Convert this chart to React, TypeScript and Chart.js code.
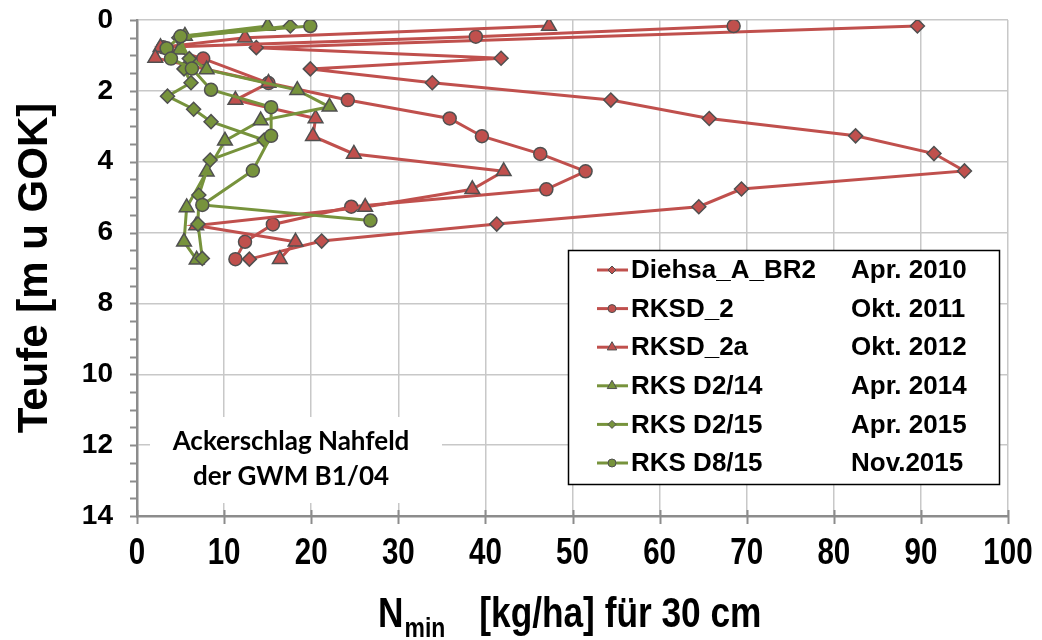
import React, { useEffect, useRef } from "react";
import { Chart, registerables } from "chart.js";

Chart.register(...registerables);

// ---------- data ----------
const seriesNames = ["Diehsa_A_BR2", "RKSD_2", "RKSD_2a", "RKS D2/14", "RKS D2/15", "RKS D8/15"];
const seriesDates = ["Apr. 2010", "Okt. 2011", "Okt. 2012", "Apr. 2014", "Apr. 2015", "Nov.2015"];

const diehsaN = [89.6, 13.7, 41.8, 19.9, 33.9, 54.4, 65.7, 82.5, 91.5, 95.0, 69.4, 64.5, 41.3, 21.2, 12.9];
const diehsaDepth = [0.17, 0.78, 1.08, 1.38, 1.77, 2.26, 2.78, 3.27, 3.77, 4.26, 4.77, 5.27, 5.76, 6.24, 6.75];

const rksd2N = [68.5, 38.9, 3.0, 7.6, 15.1, 24.2, 35.9, 39.6, 46.3, 51.5, 47.0, 24.6, 15.6, 12.4, 11.3];
const rksd2Depth = [0.17, 0.47, 0.77, 1.09, 1.78, 2.26, 2.78, 3.28, 3.78, 4.27, 4.78, 5.27, 5.77, 6.26, 6.75];

const rksd2aN = [47.3, 12.4, 2.7, 2.1, 15.1, 11.3, 20.5, 20.2, 24.9, 42.1, 38.5, 26.2, 6.8, 18.2, 16.4];
const rksd2aDepth = [0.17, 0.5, 0.77, 1.07, 1.78, 2.26, 2.78, 3.28, 3.78, 4.27, 4.78, 5.28, 5.8, 6.26, 6.75];

const d214N = [15.0, 5.5, 4.9, 8.0, 18.4, 22.1, 14.2, 10.1, 8.0, 5.7, 5.4, 6.85];
const d214Depth = [0.17, 0.45, 0.84, 1.4, 1.98, 2.45, 2.84, 3.41, 4.28, 5.29, 6.26, 6.77];

const d215N = [17.6, 4.8, 6.0, 5.4, 6.2, 3.5, 6.5, 8.5, 14.6, 8.4, 7.1, 7.0, 7.5];
const d215Depth = [0.17, 0.5, 1.09, 1.38, 1.77, 2.15, 2.52, 2.87, 3.39, 3.95, 4.94, 5.76, 6.73];

const d815N = [19.9, 5.0, 3.4, 3.9, 6.3, 8.5, 15.4, 15.4, 13.3, 7.5, 26.8];
const d815Depth = [0.17, 0.46, 0.8, 1.09, 1.37, 1.97, 2.46, 3.27, 4.25, 5.22, 5.66];

const xTicks = [0, 10, 20, 30, 40, 50, 60, 70, 80, 90, 100];
const yTicks = [0, 2, 4, 6, 8, 10, 12, 14];

const annotationLines = ["Ackerschlag Nahfeld", "der GWM B1/04"];
const xTitleMain = "N";
const xTitleSub = "min";
const xTitleRest = "[kg/ha] für 30 cm";
const yTitle = "Teufe [m u GOK]";

// ---------- styles ----------
const RED = "#C0504D";
const GREEN = "#77933C";
const MARKER_BORDER = "#505050";
const seriesColors = [RED, RED, RED, GREEN, GREEN, GREEN];
const seriesStyles = ["rectRot", "circle", "triangle", "triangle", "rectRot", "circle"];
const seriesRadius = [7, 6.5, 8.5, 8.5, 7, 6.5];

const allX = [diehsaN, rksd2N, rksd2aN, d214N, d215N, d815N];
const allY = [diehsaDepth, rksd2Depth, rksd2aDepth, d214Depth, d215Depth, d815Depth];

const BOLD = "'Liberation Sans', Arial, sans-serif";
const NARROW_SCALE = 0.82;

function drawMarker(ctx: CanvasRenderingContext2D, style: string, x: number, y: number, r: number) {
  ctx.beginPath();
  if (style === "circle") {
    ctx.arc(x, y, r, 0, Math.PI * 2);
  } else if (style === "rectRot") {
    ctx.moveTo(x, y - r);
    ctx.lineTo(x + r, y);
    ctx.lineTo(x, y + r);
    ctx.lineTo(x - r, y);
    ctx.closePath();
  } else {
    for (let k = 0; k < 3; k++) {
      const a = (k * 2 * Math.PI) / 3;
      const px = x + Math.sin(a) * r;
      const py = y - Math.cos(a) * r;
      if (k === 0) ctx.moveTo(px, py);
      else ctx.lineTo(px, py);
    }
    ctx.closePath();
  }
  ctx.fill();
  ctx.stroke();
}

// draws text horizontally condensed (Arial Narrow look)
function narrowText(ctx: CanvasRenderingContext2D, text: string, x: number, y: number, align: "left" | "center") {
  ctx.save();
  ctx.translate(x, y);
  ctx.scale(NARROW_SCALE, 1);
  ctx.textAlign = align;
  ctx.fillText(text, 0, 0);
  ctx.restore();
  return ctx.measureText(text).width * NARROW_SCALE;
}

const decorPlugin = {
  id: "decor",
  beforeDatasetsDraw(chart: any) {
    const ctx: CanvasRenderingContext2D = chart.ctx;
    ctx.save();
    ctx.fillStyle = "#ffffff";
    ctx.fillRect(150, 417, 292, 86);
    ctx.fillStyle = "#000";
    ctx.font = `bold 26px Lato, 'Open Sans', sans-serif`;
    ctx.textAlign = "center";
    ctx.textBaseline = "middle";
    ctx.fillText(annotationLines[0], 291, 442);
    ctx.fillText(annotationLines[1], 291, 477);
    ctx.restore();
  },
  afterDraw(chart: any) {
    const ctx: CanvasRenderingContext2D = chart.ctx;
    const xs = chart.scales.x;
    const ys = chart.scales.y;
    const area = chart.chartArea;
    ctx.save();
    // axis ticks
    ctx.strokeStyle = "#8C8C8C";
    ctx.lineWidth = 2;
    for (let v = 0; v <= 14.001; v += 0.5) {
      const py = Math.round(ys.getPixelForValue(v)) + 0.5;
      ctx.beginPath();
      ctx.moveTo(area.left - 7, py);
      ctx.lineTo(area.left, py);
      ctx.stroke();
    }
    for (const v of xTicks) {
      const px = Math.round(xs.getPixelForValue(v)) + 0.5;
      ctx.beginPath();
      ctx.moveTo(px, area.bottom - 6);
      ctx.lineTo(px, area.bottom + 8);
      ctx.stroke();
    }

    // x tick labels (narrow bold)
    ctx.fillStyle = "#000";
    ctx.font = `bold 36px ${BOLD}`;
    ctx.textBaseline = "middle";
    for (const v of xTicks) {
      narrowText(ctx, String(v), xs.getPixelForValue(v), area.bottom + 38, "center");
    }

    // x title with subscript
    ctx.textBaseline = "alphabetic";
    let tx = 378;
    const base = 627;
    ctx.font = `bold 43px ${BOLD}`;
    tx += narrowText(ctx, xTitleMain, tx, base, "left") + 1;
    ctx.font = `bold 28px ${BOLD}`;
    tx += narrowText(ctx, xTitleSub, tx, base + 10, "left") + 34;
    ctx.font = `bold 43px ${BOLD}`;
    narrowText(ctx, xTitleRest, tx, base, "left");

    // y title
    ctx.save();
    ctx.translate(35, 268);
    ctx.rotate(-Math.PI / 2);
    ctx.textAlign = "center";
    ctx.textBaseline = "middle";
    ctx.font = `bold 42px ${BOLD}`;
    ctx.fillText(yTitle, 0, 0);
    ctx.restore();

    // legend
    const lx = 568, ly = 250, lw = 431, lh = 234;
    ctx.fillStyle = "#ffffff";
    ctx.fillRect(lx, ly, lw, lh);
    ctx.strokeStyle = "#000";
    ctx.lineWidth = 1.5;
    ctx.strokeRect(lx + 0.5, ly + 0.5, lw, lh);
    for (let i = 0; i < seriesNames.length; i++) {
      const cy = 270 + i * 38.6;
      ctx.strokeStyle = seriesColors[i];
      ctx.lineWidth = 3;
      ctx.beginPath();
      ctx.moveTo(597, cy);
      ctx.lineTo(628, cy);
      ctx.stroke();
      ctx.fillStyle = seriesColors[i];
      ctx.strokeStyle = MARKER_BORDER;
      ctx.lineWidth = 1;
      const r = seriesStyles[i] === "triangle" ? 5.5 : 4;
      drawMarker(ctx, seriesStyles[i], 612, cy, r);
      ctx.fillStyle = "#000";
      ctx.font = `bold 26px ${BOLD}`;
      ctx.textAlign = "left";
      ctx.textBaseline = "middle";
      ctx.fillText(seriesNames[i], 631, cy + 1);
      ctx.fillText(seriesDates[i], 851, cy + 1);
    }
    ctx.restore();
  },
};

function noPad(s: any) {
  s.paddingLeft = 0;
  s.paddingRight = 0;
  s.paddingTop = 0;
  s.paddingBottom = 0;
}

export default function App() {
  const canvasRef = useRef<HTMLCanvasElement | null>(null);

  useEffect(() => {
    if (!canvasRef.current) return;
    const datasets = seriesNames.map((name, i) => ({
      label: name,
      data: allX[i].map((x, k) => ({ x, y: allY[i][k] })),
      showLine: true,
      borderColor: seriesColors[i],
      backgroundColor: seriesColors[i],
      borderWidth: 3,
      pointStyle: seriesStyles[i] as any,
      pointRadius: seriesRadius[i],
      pointBackgroundColor: seriesColors[i],
      pointBorderColor: MARKER_BORDER,
      pointBorderWidth: 1.5,
      order: seriesNames.length - 1 - i,
      tension: 0,
    }));

    const chart = new Chart(canvasRef.current, {
      type: "scatter",
      data: { datasets },
      options: {
        responsive: false,
        animation: false,
        layout: { padding: { left: 0, right: 34, top: 20, bottom: 0 } },
        plugins: { legend: { display: false }, tooltip: { enabled: false } },
        scales: {
          x: {
            type: "linear",
            min: 0,
            max: 100,
            afterFit: (s: any) => { s.height = 124; noPad(s); },
            afterBuildTicks: (s: any) => { s.ticks = xTicks.map((v) => ({ value: v })); },
            ticks: { display: false },
            grid: { color: "#C8C8C8", lineWidth: 1.5, drawTicks: false },
            border: { color: "#8C8C8C", width: 2.5 },
          },
          y: {
            type: "linear",
            min: 0,
            max: 14,
            reverse: true,
            afterFit: (s: any) => { s.width = 137; noPad(s); },
            afterBuildTicks: (s: any) => { s.ticks = yTicks.map((v) => ({ value: v })); },
            ticks: {
              padding: 24,
              color: "#000",
              font: { family: BOLD, size: 28, weight: "bold" },
            },
            grid: { color: "#C8C8C8", lineWidth: 1.5, drawTicks: false },
            border: { color: "#8C8C8C", width: 2.5 },
          },
        },
      },
      plugins: [decorPlugin],
    });
    return () => chart.destroy();
  }, []);

  return (
    <canvas
      ref={canvasRef}
      width={1042}
      height={640}
      style={{ position: "absolute", left: 0, top: 0, width: 1042, height: 640, background: "#fff" }}
    />
  );
}
